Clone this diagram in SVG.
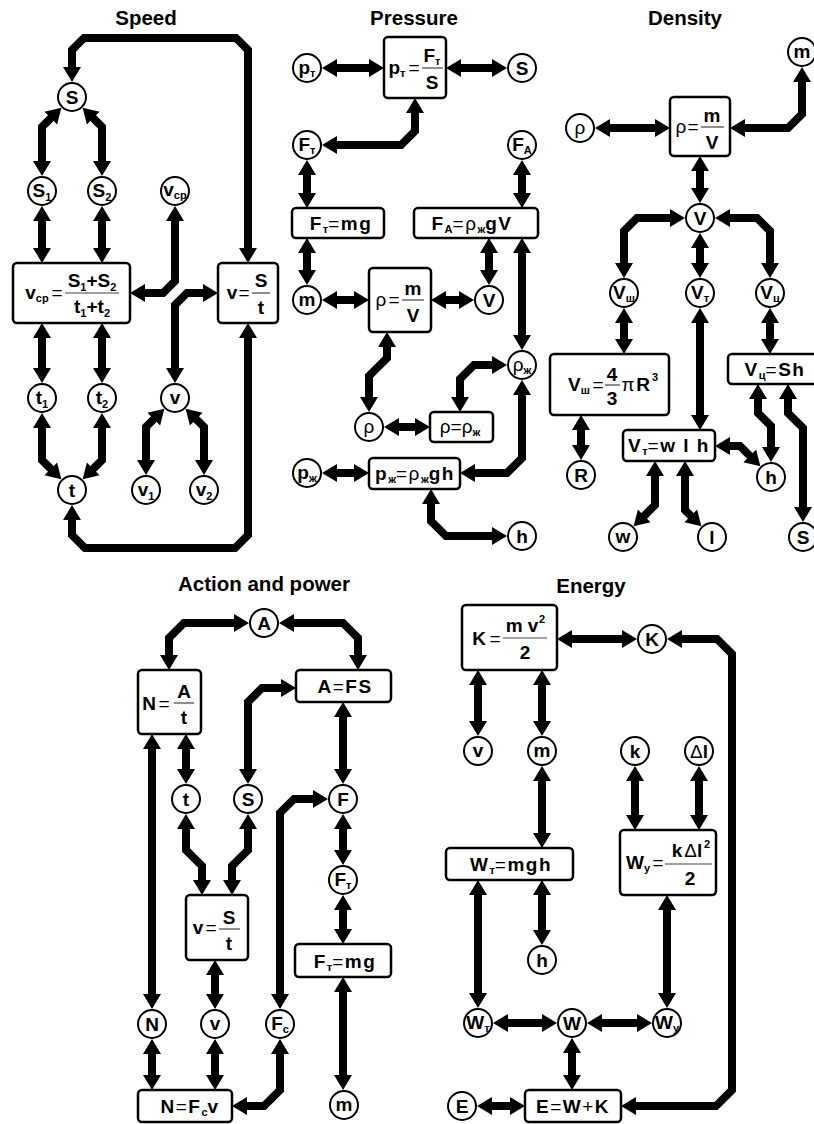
<svg xmlns="http://www.w3.org/2000/svg" width="814" height="1124" viewBox="0 0 814 1124">
<style>
.c{fill:#fff;stroke:#000;stroke-width:2}
.b{fill:#fff;stroke:#000;stroke-width:2.5}
.e{fill:none;stroke:#000;stroke-width:8;stroke-linejoin:miter;marker-start:url(#ah);marker-end:url(#ah)}
text{font-family:"Liberation Sans",Arial,sans-serif;font-weight:bold;font-size:19px;text-anchor:middle;fill:#000}
.ttl{font-size:20.5px}
.f{letter-spacing:1.5px}
.s{font-size:11px;letter-spacing:0}
.n{font-weight:normal}
.fl{stroke:#444;stroke-width:1.2}
</style>
<defs>
<marker id="ah" markerUnits="userSpaceOnUse" viewBox="0 0 20 20" markerWidth="20" markerHeight="20" refX="5" refY="10" orient="auto-start-reverse"><path d="M0,1 L15,10 L0,19 Z" fill="#000"/></marker>
</defs>
<rect width="814" height="1124" fill="#fff"/>
<g id="titles">
<text class="ttl" x="146" y="25">Speed</text>
<text class="ttl" x="414" y="25">Pressure</text>
<text class="ttl" x="685" y="25">Density</text>
<text class="ttl" x="264" y="591">Action and power</text>
<text class="ttl" x="591" y="593">Energy</text>
</g>
<g id="connectors">
<path class="e" d="M72,72 L72,50 L84,38 L236,38 L248,50 L248,253"/>
<path class="e" d="M54.3,114.7 L42,127 L42,166"/>
<path class="e" d="M89.7,114.7 L102,127 L102,166"/>
<path class="e" d="M42,216 L42,253"/>
<path class="e" d="M102,216 L102,253"/>
<path class="e" d="M175,216 L175,281 L163,293 L140,293"/>
<path class="e" d="M175,373 L175,305 L187,293 L208,293"/>
<path class="e" d="M42,333 L42,373"/>
<path class="e" d="M102,333 L102,373"/>
<path class="e" d="M42,423 L42,460 L54.3,472.3"/>
<path class="e" d="M102,423 L102,460 L89.7,472.3"/>
<path class="e" d="M157.3,415.7 L146,427 L146,465"/>
<path class="e" d="M192.7,415.7 L204,427 L204,465"/>
<path class="e" d="M72,515 L72,535 L85,548 L235,548 L248,535 L248,333"/>
<path class="e" d="M332,68 L374,68"/>
<path class="e" d="M456,68 L497,68"/>
<path class="e" d="M415,108 L415,131 L401,145 L332,145"/>
<path class="e" d="M307,170 L307,198"/>
<path class="e" d="M522,170 L522,198"/>
<path class="e" d="M307,248 L307,275"/>
<path class="e" d="M489,248 L489,275"/>
<path class="e" d="M522,248 L522,340"/>
<path class="e" d="M332,300 L359,300"/>
<path class="e" d="M441,300 L464,300"/>
<path class="e" d="M387,342 L387,358 L369,376 L369,402"/>
<path class="e" d="M394,427 L420,427"/>
<path class="e" d="M460,402 L460,379 L474,365 L497,365"/>
<path class="e" d="M332,473 L359,473"/>
<path class="e" d="M522,390 L522,458 L507,473 L470,473"/>
<path class="e" d="M431,499 L431,521 L446,536 L497,536"/>
<path class="e" d="M605,128 L660,128"/>
<path class="e" d="M802,77 L802,114 L788,128 L740,128"/>
<path class="e" d="M700,166 L700,193"/>
<path class="e" d="M675,218 L637,218 L624,231 L624,268"/>
<path class="e" d="M700,243 L700,268"/>
<path class="e" d="M725,218 L757,218 L770,231 L770,268"/>
<path class="e" d="M624,318 L624,344"/>
<path class="e" d="M581,425 L581,450"/>
<path class="e" d="M700,318 L700,420"/>
<path class="e" d="M770,318 L770,344"/>
<path class="e" d="M758,394 L758,413 L771,426 L771,452"/>
<path class="e" d="M788,394 L788,413 L803,428 L803,512"/>
<path class="e" d="M725,446 L740,446 L753.3,459.3"/>
<path class="e" d="M655,471 L655,505 L640.7,519.3"/>
<path class="e" d="M685,471 L685,510 L694.3,519.3"/>
<path class="e" d="M239,623 L184,623 L169,638 L169,660"/>
<path class="e" d="M289,623 L343,623 L358,638 L358,660"/>
<path class="e" d="M186,744 L186,774"/>
<path class="e" d="M248,774 L248,702 L262,688 L286,688"/>
<path class="e" d="M343,712 L343,774"/>
<path class="e" d="M280,999 L280,813 L294,799 L318,799"/>
<path class="e" d="M343,824 L343,855"/>
<path class="e" d="M343,905 L343,934"/>
<path class="e" d="M343,987 L343,1080"/>
<path class="e" d="M186,824 L186,850 L202,866 L202,885"/>
<path class="e" d="M248,824 L248,850 L232,866 L232,885"/>
<path class="e" d="M152,744 L152,999"/>
<path class="e" d="M215,970 L215,999"/>
<path class="e" d="M152,1049 L152,1080"/>
<path class="e" d="M215,1049 L215,1080"/>
<path class="e" d="M280,1049 L280,1090 L264,1106 L242,1106"/>
<path class="e" d="M567,639 L627,639"/>
<path class="e" d="M677,639 L717,639 L732,654 L732,1090 L716,1106 L631,1106"/>
<path class="e" d="M478,680 L478,726"/>
<path class="e" d="M542,680 L542,726"/>
<path class="e" d="M635,776 L635,820"/>
<path class="e" d="M699,776 L699,820"/>
<path class="e" d="M542,776 L542,838"/>
<path class="e" d="M542,890 L542,935"/>
<path class="e" d="M478,890 L478,998"/>
<path class="e" d="M667,905 L667,998"/>
<path class="e" d="M503,1023 L547,1023"/>
<path class="e" d="M597,1023 L642,1023"/>
<path class="e" d="M572,1048 L572,1080"/>
<path class="e" d="M487,1106 L515,1106"/>
</g>
<!-- Speed -->
<g id="sp-S"><circle class="c" cx="72" cy="97" r="14"/><text x="72" y="104">S</text></g>
<g id="sp-S1"><circle class="c" cx="42" cy="191" r="14"/><text x="42" y="197">S<tspan class="s" dy="4">1</tspan></text></g>
<g id="sp-S2"><circle class="c" cx="102" cy="191" r="14"/><text x="102" y="197">S<tspan class="s" dy="4">2</tspan></text></g>
<g id="sp-vcp"><circle class="c" cx="175" cy="191" r="14"/><text x="175" y="196">v<tspan class="s" dy="3">ср</tspan></text></g>
<g id="sp-t1"><circle class="c" cx="42" cy="398" r="14"/><text x="42" y="404">t<tspan class="s" dy="4">1</tspan></text></g>
<g id="sp-t2"><circle class="c" cx="102" cy="398" r="14"/><text x="102" y="404">t<tspan class="s" dy="4">2</tspan></text></g>
<g id="sp-v"><circle class="c" cx="175" cy="398" r="14"/><text x="175" y="404">v</text></g>
<g id="sp-t"><circle class="c" cx="72" cy="490" r="14"/><text x="72" y="497">t</text></g>
<g id="sp-v1"><circle class="c" cx="146" cy="490" r="14"/><text x="146" y="496">v<tspan class="s" dy="4">1</tspan></text></g>
<g id="sp-v2"><circle class="c" cx="204" cy="490" r="14"/><text x="204" y="496">v<tspan class="s" dy="4">2</tspan></text></g>
<g id="sp-vcp-box"><rect class="b" x="13" y="263" width="117" height="60" rx="4"/>
<text x="37" y="299">v<tspan class="s" dy="3">ср</tspan></text>
<text class="n" x="57" y="299">=</text>
<line class="fl" x1="65" y1="293" x2="119" y2="293"/>
<text x="92" y="287">S<tspan class="s" dy="4">1</tspan><tspan dy="-4">+S</tspan><tspan class="s" dy="4">2</tspan></text>
<text x="92" y="313">t<tspan class="s" dy="4">1</tspan><tspan dy="-4">+t</tspan><tspan class="s" dy="4">2</tspan></text>
</g>
<g id="sp-v-box"><rect class="b" x="218" y="263" width="60" height="60" rx="4"/>
<text x="232" y="299">v</text><text class="n" x="244" y="299">=</text>
<line class="fl" x1="252" y1="293" x2="270" y2="293"/>
<text x="261" y="287">S</text><text x="261" y="314">t</text>
</g>
<!-- Pressure -->
<g id="pr-pt"><circle class="c" cx="307" cy="68" r="14"/><text x="307" y="74">p<tspan class="s" dy="3">т</tspan></text></g>
<g id="pr-S"><circle class="c" cx="522" cy="68" r="14"/><text x="522" y="75">S</text></g>
<g id="pr-pt-box"><rect class="b" x="384" y="37" width="62" height="61" rx="4"/>
<text x="397" y="74">p<tspan class="s" dy="3">т</tspan></text><text class="n" x="414" y="74">=</text>
<line class="fl" x1="422" y1="68" x2="443" y2="68"/>
<text x="432" y="62">F<tspan class="s" dy="3">т</tspan></text><text x="432" y="89">S</text>
</g>
<g id="pr-Ft"><circle class="c" cx="307" cy="145" r="14"/><text x="307" y="151">F<tspan class="s" dy="3">т</tspan></text></g>
<g id="pr-FA"><circle class="c" cx="522" cy="145" r="14"/><text x="522" y="151">F<tspan class="s" dy="3">A</tspan></text></g>
<g id="pr-Ft-box"><rect class="b" x="292" y="208" width="92" height="30" rx="4"/><text class="f" x="341" y="230">F<tspan class="s" dy="3">т</tspan><tspan dy="-3" class="n">=</tspan>mg</text></g>
<g id="pr-FA-box"><rect class="b" x="414" y="208" width="124" height="30" rx="4"/><text class="f" x="472" y="230">F<tspan class="s" dy="3">A</tspan><tspan dy="-3" class="n">=ρ</tspan><tspan class="s" dy="3">ж</tspan><tspan dy="-3">gV</tspan></text></g>
<g id="pr-m"><circle class="c" cx="307" cy="300" r="14"/><text x="307" y="306">m</text></g>
<g id="pr-V"><circle class="c" cx="489" cy="300" r="14"/><text x="489" y="307">V</text></g>
<g id="pr-rho-box"><rect class="b" x="369" y="268" width="62" height="64" rx="4"/>
<text class="n" x="381" y="306">ρ</text><text class="n" x="394" y="306">=</text>
<line class="fl" x1="402" y1="300" x2="424" y2="300"/>
<text x="413" y="295">m</text><text x="413" y="322">V</text>
</g>
<g id="pr-rhozh"><circle class="c" cx="522" cy="365" r="14"/><text class="n" x="522" y="371">ρ<tspan class="s" font-weight="bold" dy="3">ж</tspan></text></g>
<g id="pr-rho"><circle class="c" cx="369" cy="427" r="14"/><text class="n" x="369" y="433">ρ</text></g>
<g id="pr-rr-box"><rect class="b" x="430" y="412" width="63" height="30" rx="4"/><text class="n" x="460" y="433">ρ=ρ<tspan class="s" font-weight="bold" dy="3">ж</tspan></text></g>
<g id="pr-pzh"><circle class="c" cx="307" cy="473" r="14"/><text x="307" y="479">p<tspan class="s" dy="3">ж</tspan></text></g>
<g id="pr-pzh-box"><rect class="b" x="369" y="458" width="91" height="31" rx="4"/><text class="f" x="415" y="480">p<tspan class="s" dy="3">ж</tspan><tspan dy="-3" class="n">=ρ</tspan><tspan class="s" dy="3">ж</tspan><tspan dy="-3">gh</tspan></text></g>
<g id="pr-h"><circle class="c" cx="522" cy="536" r="14"/><text x="522" y="543">h</text></g>
<!-- Density -->
<g id="de-m"><circle class="c" cx="802" cy="52" r="14"/><text x="802" y="58">m</text></g>
<g id="de-rho"><circle class="c" cx="580" cy="128" r="14"/><text class="n" x="580" y="134">ρ</text></g>
<g id="de-rho-box"><rect class="b" x="670" y="97" width="60" height="59" rx="4"/>
<text class="n" x="681" y="133">ρ</text><text class="n" x="693" y="133">=</text>
<line class="fl" x1="701" y1="127" x2="724" y2="127"/>
<text x="712" y="122">m</text><text x="712" y="149">V</text>
</g>
<g id="de-V"><circle class="c" cx="700" cy="218" r="14"/><text x="700" y="225">V</text></g>
<g id="de-Vsh"><circle class="c" cx="624" cy="293" r="14"/><text x="624" y="299">V<tspan class="s" dy="3">ш</tspan></text></g>
<g id="de-Vt"><circle class="c" cx="700" cy="293" r="14"/><text x="700" y="299">V<tspan class="s" dy="3">т</tspan></text></g>
<g id="de-Vc"><circle class="c" cx="770" cy="293" r="14"/><text x="770" y="299">V<tspan class="s" dy="3">ц</tspan></text></g>
<g id="de-Vsh-box"><rect class="b" x="550" y="354" width="119" height="61" rx="4"/>
<text x="579" y="391">V<tspan class="s" dy="3">ш</tspan></text><text class="n" x="598" y="391">=</text>
<line class="fl" x1="605" y1="385" x2="620" y2="385"/>
<text x="612" y="381">4</text><text x="612" y="405">3</text>
<text class="n" x="628" y="391">π</text><text x="643" y="391">R</text><text class="s" x="655" y="381">3</text>
</g>
<g id="de-Vc-box"><rect class="b" x="728" y="354" width="95" height="30" rx="4"/><text class="f" x="775" y="376">V<tspan class="s" dy="3">ц</tspan><tspan dy="-3" class="n">=</tspan>Sh</text></g>
<g id="de-Vt-box"><rect class="b" x="623" y="430" width="92" height="31" rx="4"/><text class="f" x="669" y="452">V<tspan class="s" dy="3">т</tspan><tspan dy="-3" class="n">=</tspan>w l h</text></g>
<g id="de-R"><circle class="c" cx="581" cy="475" r="14"/><text x="581" y="482">R</text></g>
<g id="de-h"><circle class="c" cx="771" cy="477" r="14"/><text x="771" y="484">h</text></g>
<g id="de-w"><circle class="c" cx="623" cy="537" r="14"/><text x="623" y="543">w</text></g>
<g id="de-l"><circle class="c" cx="712" cy="537" r="14"/><text x="712" y="544">l</text></g>
<g id="de-S"><circle class="c" cx="803" cy="537" r="14"/><text x="803" y="544">S</text></g>
<!-- Action and power -->
<g id="ap-A"><circle class="c" cx="264" cy="623" r="14"/><text x="264" y="630">A</text></g>
<g id="ap-N-box"><rect class="b" x="138" y="670" width="63" height="64" rx="4"/>
<text x="149" y="710">N</text><text class="n" x="164" y="710">=</text>
<line class="fl" x1="174" y1="703" x2="194" y2="703"/>
<text x="184" y="698">A</text><text x="184" y="724">t</text>
</g>
<g id="ap-AFS-box"><rect class="b" x="296" y="670" width="95" height="32" rx="4"/><text class="f" x="345" y="693">A<tspan class="n">=</tspan>FS</text></g>
<g id="ap-t"><circle class="c" cx="186" cy="799" r="14"/><text x="186" y="806">t</text></g>
<g id="ap-S"><circle class="c" cx="248" cy="799" r="14"/><text x="248" y="806">S</text></g>
<g id="ap-F"><circle class="c" cx="343" cy="799" r="14"/><text x="343" y="806">F</text></g>
<g id="ap-Ft"><circle class="c" cx="343" cy="880" r="14"/><text x="343" y="886">F<tspan class="s" dy="3">т</tspan></text></g>
<g id="ap-v-box"><rect class="b" x="186" y="895" width="62" height="65" rx="4"/>
<text x="198" y="934">v</text><text class="n" x="211" y="934">=</text>
<line class="fl" x1="219" y1="929" x2="240" y2="929"/>
<text x="229" y="924">S</text><text x="229" y="950">t</text>
</g>
<g id="ap-Ft-box"><rect class="b" x="295" y="944" width="96" height="33" rx="4"/><text class="f" x="345" y="968">F<tspan class="s" dy="3">т</tspan><tspan dy="-3" class="n">=</tspan>mg</text></g>
<g id="ap-N"><circle class="c" cx="152" cy="1024" r="14"/><text x="152" y="1031">N</text></g>
<g id="ap-v"><circle class="c" cx="215" cy="1024" r="14"/><text x="215" y="1030">v</text></g>
<g id="ap-Fc"><circle class="c" cx="280" cy="1024" r="14"/><text x="280" y="1030">F<tspan class="s" dy="3">с</tspan></text></g>
<g id="ap-N2-box"><rect class="b" x="138" y="1090" width="94" height="32" rx="4"/><text class="f" x="190" y="1113">N<tspan class="n">=</tspan>F<tspan class="s" dy="3">с</tspan><tspan dy="-3">v</tspan></text></g>
<g id="ap-m"><circle class="c" cx="344" cy="1105" r="14"/><text x="344" y="1111">m</text></g>
<!-- Energy -->
<g id="en-K-box"><rect class="b" x="462" y="605" width="95" height="65" rx="4"/>
<text x="479" y="645">K</text><text class="n" x="495" y="645">=</text>
<line class="fl" x1="503" y1="638" x2="547" y2="638"/>
<text x="522" y="632">m v</text><text class="s" x="542" y="623">2</text><text x="525" y="659">2</text>
</g>
<g id="en-K"><circle class="c" cx="652" cy="639" r="14"/><text x="652" y="646">K</text></g>
<g id="en-v"><circle class="c" cx="478" cy="751" r="14"/><text x="478" y="757">v</text></g>
<g id="en-m"><circle class="c" cx="542" cy="751" r="14"/><text x="542" y="757">m</text></g>
<g id="en-k"><circle class="c" cx="635" cy="751" r="14"/><text x="635" y="758">k</text></g>
<g id="en-dl"><circle class="c" cx="699" cy="751" r="14"/><text x="699" y="758"><tspan class="n">Δ</tspan>l</text></g>
<g id="en-Wt-box"><rect class="b" x="446" y="848" width="127" height="32" rx="4"/><text class="f" x="511" y="871">W<tspan class="s" dy="3">т</tspan><tspan dy="-3" class="n">=</tspan>mgh</text></g>
<g id="en-Wy-box"><rect class="b" x="620" y="830" width="96" height="65" rx="4"/>
<text x="638" y="869">W<tspan class="s" dy="3">у</tspan></text><text class="n" x="658" y="869">=</text>
<line class="fl" x1="665" y1="864" x2="712" y2="864"/>
<text x="687" y="857">k<tspan class="n" dx="2">Δ</tspan>l</text><text class="s" x="707" y="848">2</text>
<text x="690" y="885">2</text>
</g>
<g id="en-h"><circle class="c" cx="542" cy="960" r="14"/><text x="542" y="967">h</text></g>
<g id="en-Wt"><circle class="c" cx="478" cy="1023" r="14"/><text x="478" y="1029">W<tspan class="s" dy="3">т</tspan></text></g>
<g id="en-W"><circle class="c" cx="572" cy="1023" r="14"/><text x="572" y="1030">W</text></g>
<g id="en-Wy"><circle class="c" cx="667" cy="1023" r="14"/><text x="667" y="1029">W<tspan class="s" dy="3">у</tspan></text></g>
<g id="en-E"><circle class="c" cx="462" cy="1106" r="14"/><text x="462" y="1113">E</text></g>
<g id="en-E-box"><rect class="b" x="525" y="1090" width="96" height="32" rx="4"/><text class="f" x="573" y="1113">E<tspan class="n">=</tspan>W<tspan class="n">+</tspan>K</text></g>
</svg>
